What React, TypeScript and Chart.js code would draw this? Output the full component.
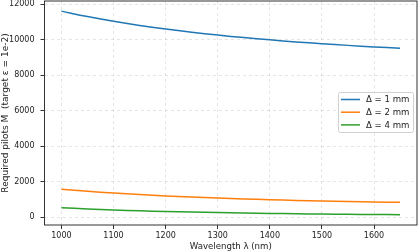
import React, { useEffect, useRef } from "react";
import { Chart, registerables } from "chart.js";

Chart.register(...registerables);

const wavelengths = [1000, 1050, 1100, 1150, 1200, 1250, 1300, 1350, 1400, 1450, 1500, 1550, 1600, 1650];
const delta1 = [11600, 11293, 11026, 10794, 10590, 10410, 10250, 10108, 9981, 9866, 9763, 9670, 9585, 9508];
const delta2 = [1560, 1450, 1350, 1265, 1190, 1125, 1070, 1020, 975, 935, 900, 870, 845, 825];
const delta4 = [525, 455, 397, 350, 310, 277, 248, 223, 202, 184, 168, 154, 142, 132];
const seriesLabels = ["Δ = 1 mm", "Δ = 2 mm", "Δ = 4 mm"];
const xTicks = [1000, 1100, 1200, 1300, 1400, 1500, 1600];
const yTicks = [0, 2000, 4000, 6000, 8000, 10000, 12000];

const FONT = "'DejaVu Sans', sans-serif";

const framePlugin = {
  id: "frame",
  afterDraw(chart: any) {
    const { ctx, chartArea } = chart;
    ctx.save();
    ctx.strokeStyle = "#333";
    ctx.lineWidth = 1;
    ctx.strokeRect(chartArea.left, chartArea.top, chartArea.right - chartArea.left, chartArea.bottom - chartArea.top);
    // legend
    const x0 = 338.5, y0 = 92.5, w = 75, h = 40;
    ctx.fillStyle = "rgba(255,255,255,0.85)";
    ctx.strokeStyle = "#d0d0d0";
    ctx.beginPath();
    const r = 2;
    ctx.moveTo(x0 + r, y0);
    ctx.lineTo(x0 + w - r, y0);
    ctx.quadraticCurveTo(x0 + w, y0, x0 + w, y0 + r);
    ctx.lineTo(x0 + w, y0 + h - r);
    ctx.quadraticCurveTo(x0 + w, y0 + h, x0 + w - r, y0 + h);
    ctx.lineTo(x0 + r, y0 + h);
    ctx.quadraticCurveTo(x0, y0 + h, x0, y0 + h - r);
    ctx.lineTo(x0, y0 + r);
    ctx.quadraticCurveTo(x0, y0, x0 + r, y0);
    ctx.closePath();
    ctx.fill();
    ctx.stroke();
    ctx.font = `8.6px ${FONT}`;
    ctx.textBaseline = "middle";
    chart.data.datasets.forEach((ds: any, i: number) => {
      const yy = 99.5 + i * 12.7;
      ctx.strokeStyle = ds.borderColor;
      ctx.lineWidth = 1.5;
      ctx.beginPath();
      ctx.moveTo(341, yy);
      ctx.lineTo(360, yy);
      ctx.stroke();
      ctx.fillStyle = "#222";
      ctx.fillText(ds.label, 366, yy + 0.5);
    });
    ctx.restore();
  },
};

export default function App() {
  const ref = useRef<HTMLCanvasElement>(null);
  useEffect(() => {
    document.body.style.margin = "0";
    const mk = (vals: number[]) => wavelengths.map((x, i) => ({ x, y: vals[i] }));
    const chart = new Chart(ref.current!, {
      type: "line",
      data: {
        datasets: [
          { label: seriesLabels[0], data: mk(delta1), borderColor: "#1f77b4", borderWidth: 1.5, pointRadius: 0, tension: 0.4 },
          { label: seriesLabels[1], data: mk(delta2), borderColor: "#ff7f0e", borderWidth: 1.5, pointRadius: 0, tension: 0.4 },
          { label: seriesLabels[2], data: mk(delta4), borderColor: "#2ca02c", borderWidth: 1.5, pointRadius: 0, tension: 0.4 },
        ],
      },
      options: {
        animation: false,
        responsive: false,
        layout: { padding: { top: 1, right: 2, left: 0, bottom: 0 } },
        plugins: { legend: { display: false }, tooltip: { enabled: false } },
        scales: {
          x: {
            type: "linear",
            min: 967.5,
            max: 1682.5,
            afterBuildTicks: (s: any) => { s.ticks = xTicks.map((v) => ({ value: v })); },
            afterFit: (s: any) => { s.height = 27; s.paddingLeft = 0; s.paddingRight = 0; },
            ticks: { color: "#222", font: { family: FONT, size: 8 }, padding: 2, maxRotation: 0, callback: (v: any) => String(v) },
            grid: { color: "rgba(0,0,0,0.10)", tickColor: "#333", tickLength: 4, tickBorderDash: [] },
            border: { display: false, dash: [3, 3] },
            title: { display: true, text: "Wavelength λ (nm)", color: "#222", font: { family: FONT, size: 8.6 }, padding: { top: 0, bottom: 0 } },
          },
          y: {
            type: "linear",
            min: -450,
            max: 12170,
            afterBuildTicks: (s: any) => { s.ticks = yTicks.map((v) => ({ value: v })); },
            afterFit: (s: any) => { s.width = 44.5; s.paddingTop = 0; s.paddingBottom = 0; },
            ticks: { color: "#222", font: { family: FONT, size: 8 }, padding: 6, callback: (v: any) => String(v) },
            grid: { color: "rgba(0,0,0,0.10)", tickColor: "#333", tickLength: 4, tickBorderDash: [] },
            border: { display: false, dash: [3, 3] },
            title: { display: true, text: "Required pilots M  (target ε = 1e-2)", color: "#222", font: { family: FONT, size: 9 }, padding: { top: 0, bottom: 0 } },
          },
        },
      } as any,
      plugins: [framePlugin],
    });
    return () => chart.destroy();
  }, []);
  return (
    <div style={{ position: "absolute", left: 0, top: 0, width: 419, height: 252 }}>
      <canvas ref={ref} width={419} height={252} style={{ display: "block", width: 419, height: 252 }} />
    </div>
  );
}
